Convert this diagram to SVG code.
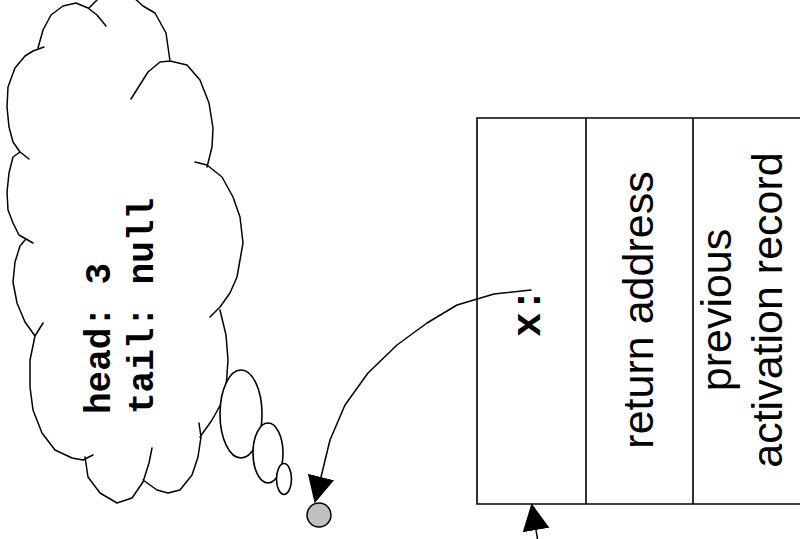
<svg xmlns="http://www.w3.org/2000/svg" width="800" height="539" viewBox="0 0 800 539">
<style>
.ln{fill:none;stroke:#000;stroke-width:1.5;stroke-linejoin:round;stroke-linecap:round}
.bub{fill:#fff;stroke:#000;stroke-width:1.6}
.mono{font-family:"Liberation Mono","Courier New",monospace;font-weight:bold;font-size:36px;fill:#000}
.sans{font-family:"Liberation Sans",Arial,sans-serif;font-size:43px;fill:#000;text-anchor:middle}
.box{fill:none;stroke:#000;stroke-width:1.6}
</style>
<defs>
<marker id="ah" viewBox="0 0 10 10" refX="0" refY="5" markerWidth="27" markerHeight="27" markerUnits="userSpaceOnUse" orient="auto">
<path d="M0,0 L10,5 L0,10 Z" fill="#000"/>
</marker>
</defs>
<rect width="800" height="539" fill="#fff"/>
<g id="cloud">
<path class="ln" d="M106,26 L97,15 L88,8 L76,3 L63,6 L51,15 L43,30 L38,48
M44,47 L33,51 L25,56 L15,68 L8,87 L7,107 L9,127 L13,142 L20,152 L29,159
M20,152 L13,157 L9,173 L7,192 L8,210 L13,223 L19,235 L33,243
M25,240 L20,246 L15,262 L13,282 L17,303 L25,322 L35,336
M43,323 L35,336 L30,360 L30,387 L33,410 L42,433 L55,450 L72,458 L83,460 L93,455
M85,457 L88,477 L100,493 L117,503 L132,498 L143,482 L149,463 L152,448
M143,480 L157,490 L168,493 L180,490 L192,475 L198,457 L201,437 L199,423
M200,437 L212,420 L221,404 L226,388 L228,360 L226,335 L220,310
M195,162 L207,165 L222,177 L233,197 L240,217 L243,243 L240,260 L237,277 L230,293 L220,307 L210,317
M207,167 L212,147 L213,128 L209,103 L200,80 L187,65 L170,61 L160,62 L148,72 L131,99
M170,61 L166,33 L155,13 L143,6 L132,-4
M89,8 L100,-3"/>
<text class="mono" transform="translate(110,414) rotate(-90)">head: 3</text>
<text class="mono" transform="translate(153,414) rotate(-90)">tail: null</text>
</g>
<g id="bubbles">
<ellipse class="bub" cx="241" cy="414" rx="21" ry="44"/>
<ellipse class="bub" cx="268" cy="453" rx="15" ry="30"/>
<ellipse class="bub" cx="284" cy="479" rx="7.5" ry="15.5"/>
</g>
<g id="pointee">
<circle cx="319" cy="515" r="12" fill="#c0c0c0" stroke="#000" stroke-width="1.5"/>
</g>
<g id="frame">
<path class="box" d="M802,118 L477,118 L477,504 L802,504 M586,118 L586,504 M693,118 L693,504"/>
<text class="mono" style="font-size:41px" transform="translate(540,337) rotate(-90)">x:</text>
<text class="sans" transform="translate(653,310) rotate(-90)">return address</text>
<text class="sans" transform="translate(731,310) rotate(-90)">previous</text>
<text class="sans" transform="translate(782,310) rotate(-90)">activation record</text>
</g>
<g id="connectors">
<path class="ln" d="M531,290 L494,294 L457,305 L427,323 L397,345 L368,373 L345,405 L330,440 L321,477" marker-end="url(#ah)"/>
<path class="ln" d="M539,548 L536,530" marker-end="url(#ah)"/>
</g>
</svg>
